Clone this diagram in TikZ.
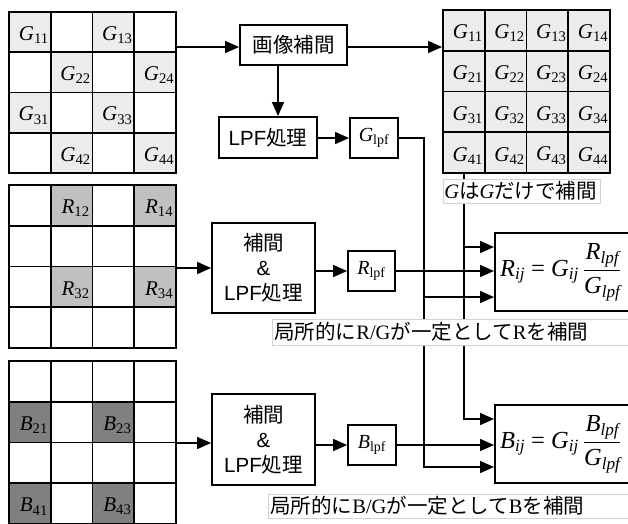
\documentclass[tikz,border=0pt]{standalone}
\usepackage{fontspec}
\setmainfont{Liberation Serif}
\setsansfont{Liberation Sans}
\newfontfamily\jpfont{Noto Sans CJK JP}
\usetikzlibrary{arrows.meta}
\newcommand{\jp}[1]{{\jpfont #1}}
\newcommand{\sub}[2]{{\itshape #1}\textsubscript{#2}}
\definecolor{gLight}{RGB}{236,236,236}
\definecolor{gAll}{RGB}{236,236,236}
\definecolor{rMid}{RGB}{192,192,192}
\definecolor{bDark}{RGB}{128,128,128}
\definecolor{lblBorder}{RGB}{210,210,210}
\newcommand{\gridlines}[4]{%
  \foreach \i in {1,2,3}{%
    \draw[gl] ({#1+\i*#3},#2) -- ({#1+\i*#3},{#2+4*#4});
    \draw[gl] (#1,{#2+\i*#4}) -- ({#1+4*#3},{#2+\i*#4});
  }}
\begin{document}
\begin{tikzpicture}[x=1pt,y=-1pt,
  gl/.style={line width=1.7pt},
  outline/.style={draw, line width=1.9pt, inner sep=0pt},
  cell/.style={inner sep=0pt, minimum width=41.75pt, minimum height=40.25pt},
  ctxt/.style={inner sep=0pt, font=\fontsize{21}{23}\selectfont},
  pbox/.style={draw, line width=1.8pt, inner sep=0pt, align=center, font=\fontsize{20.5}{25}\selectfont},
  arr/.style={line width=1.5pt, -{Triangle[length=14pt,width=12pt]}},
  ln/.style={line width=1.5pt},
  lbl/.style={draw=lblBorder, fill=white, line width=0.7pt, inner sep=0pt, anchor=west, font=\fontsize{20.5}{24}\selectfont}
]
\useasboundingbox (0,0) rectangle (628,523);

% ---------- left G grid ----------
\foreach \r/\c/\t in {1/1/11,1/3/13,2/2/22,2/4/24,3/1/31,3/3/33,4/2/42,4/4/44}{
  \node[cell, fill=gLight] (gc\t) at ({9+(\c-0.5)*41.75},{12+(\r-0.5)*40.25}) {};
  \node[ctxt] (gt\t) at ([xshift=4pt,yshift=-3pt]gc\t.center) {\sub{G}{\t}};
}
\gridlines{9}{12}{41.75}{40.25}
\node[outline, minimum width=167pt, minimum height=161pt] (gL) at (92.5,92.5) {};

% ---------- R grid ----------
\foreach \r/\c/\t in {1/2/12,1/4/14,3/2/32,3/4/34}{
  \node[cell, fill=rMid, minimum height=40.75pt] (rc\t) at ({9+(\c-0.5)*41.75},{185+(\r-0.5)*40.75}) {};
  \node[ctxt] (rt\t) at ([xshift=4pt,yshift=-3pt]rc\t.center) {\sub{R}{\t}};
}
\gridlines{9}{185}{41.75}{40.75}
\node[outline, minimum width=167pt, minimum height=163pt] (rgrid) at (92.5,266.5) {};

% ---------- B grid ----------
\foreach \r/\c/\t in {2/1/21,2/3/23,4/1/41,4/3/43}{
  \node[cell, fill=bDark, minimum height=40.75pt] (bc\t) at ({9+(\c-0.5)*41.75},{361+(\r-0.5)*40.75}) {};
  \node[ctxt] (bt\t) at ([xshift=4pt,yshift=-3pt]bc\t.center) {\sub{B}{\t}};
}
\gridlines{9}{361}{41.75}{40.75}
\node[outline, minimum width=167pt, minimum height=163pt] (bgrid) at (92.5,442.5) {};

% ---------- right full G grid ----------
\node[outline, fill=gAll, minimum width=167pt, minimum height=163pt] (gR) at (526.5,91.5) {};
\foreach \r in {1,2,3,4}{
  \foreach \c in {1,2,3,4}{
    \node[ctxt] (gr\r\c) at ({443+(\c-0.5)*41.75+4},{10+(\r-0.5)*40.75+3}) {\sub{G}{\r\c}};
  }
}
\gridlines{443}{10}{41.75}{40.75}

% ---------- process boxes ----------
\node[pbox, minimum width=107pt, minimum height=40pt] (imgint) at (293.5,45) {\jp{画像補間}};
\node[pbox, minimum width=98pt, minimum height=41pt] (lpf) at (268,137.5) {\textsf{LPF}\jp{処理}};
\node[pbox, minimum width=48pt, minimum height=40pt, font=\fontsize{20}{22}\selectfont] (glpf) at (374,138) {{\itshape G}\textsubscript{lpf}};

\node[pbox, minimum width=103pt, minimum height=90pt] (rip) at (263.5,268) {\jp{補間}\\\textsf{\&}\\\textsf{LPF}\jp{処理}};
\node[pbox, minimum width=47pt, minimum height=40pt, font=\fontsize{20}{22}\selectfont] (rlpf) at (371.5,271) {{\itshape R}\textsubscript{lpf}};

\node[pbox, minimum width=103pt, minimum height=91pt] (bip) at (263.5,439.5) {\jp{補間}\\\textsf{\&}\\\textsf{LPF}\jp{処理}};
\node[pbox, minimum width=48pt, minimum height=40pt, font=\fontsize{20}{22}\selectfont] (blpf) at (372,445) {{\itshape B}\textsubscript{lpf}};

% ---------- formula boxes ----------
\node[pbox, minimum width=138pt, minimum height=78pt, font=\fontsize{24.5}{26}\selectfont, inner xsep=3pt, anchor=west] (rf) at (494,272)
  {{\itshape R}\textsubscript{\itshape ij} = {\itshape G}\textsubscript{\itshape ij}\,${\displaystyle\frac{\hbox{{\itshape R}\textsubscript{\itshape lpf}}}{\hbox{{\itshape G}\textsubscript{\itshape lpf}}}}$\hspace{6pt}};
\node[pbox, minimum width=138pt, minimum height=78pt, font=\fontsize{24.5}{26}\selectfont, inner xsep=3pt, anchor=west] (bf) at (494,444)
  {{\itshape B}\textsubscript{\itshape ij} = {\itshape G}\textsubscript{\itshape ij}\,${\displaystyle\frac{\hbox{{\itshape B}\textsubscript{\itshape lpf}}}{\hbox{{\itshape G}\textsubscript{\itshape lpf}}}}$\hspace{6pt}};

% ---------- connectors ----------
\coordinate (xd) at (278,0);
\coordinate (gA) at (424,297);
\coordinate (gB) at (424,467);
\coordinate (fA) at (464,247);
\coordinate (fB) at (464,419);

\draw[arr] (gL.east |- 0,47) -- (imgint.west |- 0,47);
\draw[arr] (imgint.east |- 0,47) -- (gR.west |- 0,47);
\draw[arr] (xd |- imgint.south) -- (xd |- lpf.north);
\draw[arr] (lpf.east |- glpf.west) -- (glpf.west);
\draw[arr] (glpf.east) -| (gB) -- (gB -| bf.west);
\draw[arr] (gA) -- (gA -| rf.west);
\draw[arr] (gR.south -| fA) -- (fB) -- (fB -| bf.west);
\draw[arr] (fA) -- (fA -| rf.west);

\draw[arr] (rgrid.east |- rip.west) -- (rip.west);
\draw[arr] (rip.east |- rlpf.west) -- (rlpf.west);
\draw[arr] (rlpf.east) -- (rlpf.east -| rf.west);

\draw[arr] (bgrid.east |- 0,443) -- (bip.west |- 0,443);
\draw[arr] (bip.east |- blpf.west) -- (blpf.west);
\draw[arr] (blpf.east) -- (blpf.east -| bf.west);

% ---------- labels ----------
\node[lbl, minimum height=24pt, text width=155pt, align=left, inner xsep=1pt] (glab) at (443,191)
  {{\itshape G}\jp{は}{\itshape G}\jp{だけで補間}};
\node[lbl, minimum height=26pt, text width=360pt, align=left, inner xsep=2pt] (rlab) at (272,332)
  {\jp{局所的に}R/G\jp{が一定として}R\jp{を補間}};
\node[lbl, minimum height=24pt, text width=365pt, align=left, inner xsep=2pt] (blab) at (268,506)
  {\jp{局所的に}B/G\jp{が一定として}B\jp{を補間}};
\end{tikzpicture}
\end{document}
